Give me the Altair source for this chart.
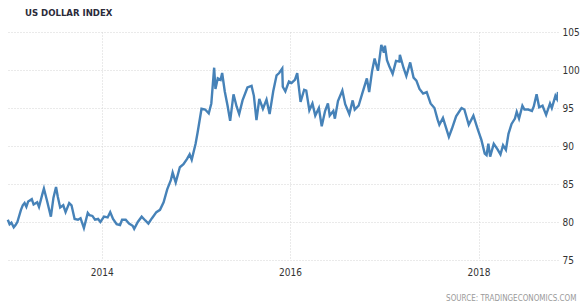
import altair as alt
import pandas as pd

TITLE = "US DOLLAR INDEX"
SOURCE = "SOURCE: TRADINGECONOMICS.COM"
Y_TICKS = [75, 80, 85, 90, 95, 100, 105]
X_TICK_YEARS = [2014, 2016, 2018]

Y2013 = [("2013-01-02", 80.3), ("2013-01-09", 79.7), ("2013-01-16", 79.9), ("2013-01-25", 79.3),
         ("2013-02-01", 79.6), ("2013-02-08", 80.0),
         ("2013-02-22", 81.6), ("2013-03-01", 82.2), ("2013-03-08", 82.5), ("2013-03-15", 82.0),
         ("2013-03-22", 82.7), ("2013-04-05", 83.0),
         ("2013-04-12", 82.3), ("2013-04-26", 82.6), ("2013-05-03", 82.0), ("2013-05-17", 83.8),
         ("2013-05-22", 84.4), ("2013-06-03", 82.8), ("2013-06-18", 80.7), ("2013-06-28", 83.2),
         ("2013-07-08", 84.6), ("2013-07-15", 83.3), ("2013-07-24", 81.9), ("2013-08-05", 82.2),
         ("2013-08-14", 81.3), ("2013-08-28", 82.5), ("2013-09-06", 82.2), ("2013-09-18", 80.4),
         ("2013-10-01", 80.3), ("2013-10-11", 80.5), ("2013-10-24", 79.2), ("2013-11-08", 81.2),
         ("2013-11-15", 80.9), ("2013-11-26", 80.8), ("2013-12-06", 80.3), ("2013-12-18", 80.4),
         ("2013-12-27", 80.0)]
Y2014 = [("2014-01-10", 80.7), ("2014-01-24", 80.6), ("2014-02-03", 81.3), ("2014-02-14", 80.4),
         ("2014-02-28", 79.7), ("2014-03-13", 79.6), ("2014-03-21", 80.3), ("2014-04-04", 80.3),
         ("2014-04-17", 79.8), ("2014-05-01", 79.5), ("2014-05-07", 79.1), ("2014-05-21", 80.0),
         ("2014-06-05", 80.7), ("2014-06-19", 80.2), ("2014-07-01", 79.8), ("2014-07-15", 80.5),
         ("2014-08-01", 81.3), ("2014-08-15", 81.6), ("2014-08-29", 82.6), ("2014-09-12", 84.3),
         ("2014-09-26", 85.5), ("2014-10-03", 86.5), ("2014-10-15", 85.2), ("2014-10-31", 87.2),
         ("2014-11-14", 87.6), ("2014-11-28", 88.3), ("2014-12-08", 88.9), ("2014-12-16", 88.2),
         ("2014-12-31", 90.3)]
Y2015 = [("2015-01-08", 91.8), ("2015-01-23", 94.9), ("2015-02-06", 94.8), ("2015-02-20", 94.3),
         ("2015-03-02", 95.6), ("2015-03-13", 100.3), ("2015-03-18", 97.5), ("2015-03-27", 98.9),
         ("2015-04-07", 98.7), ("2015-04-13", 99.6), ("2015-04-23", 97.2), ("2015-05-04", 95.3),
         ("2015-05-14", 93.3), ("2015-05-27", 96.8), ("2015-06-08", 95.2), ("2015-06-18", 94.2),
         ("2015-07-01", 96.0), ("2015-07-20", 97.7), ("2015-08-05", 97.9), ("2015-08-14", 96.6),
         ("2015-08-24", 93.4), ("2015-09-04", 96.2), ("2015-09-18", 94.9), ("2015-10-02", 96.1),
         ("2015-10-14", 94.2), ("2015-10-28", 97.2), ("2015-11-10", 99.3), ("2015-11-20", 99.6),
         ("2015-12-02", 100.2), ("2015-12-04", 97.8), ("2015-12-14", 97.2), ("2015-12-28", 98.5)]
Y2016 = [("2016-01-07", 98.3), ("2016-01-20", 98.7), ("2016-01-29", 99.6), ("2016-02-11", 95.8),
         ("2016-02-25", 97.4), ("2016-03-04", 97.3), ("2016-03-16", 94.7), ("2016-03-28", 95.6),
         ("2016-04-08", 94.0), ("2016-04-22", 95.0), ("2016-05-03", 92.6), ("2016-05-16", 94.6),
         ("2016-05-27", 95.6), ("2016-06-03", 94.0), ("2016-06-17", 94.6), ("2016-06-23", 93.6),
         ("2016-07-05", 95.9), ("2016-07-22", 97.3), ("2016-08-02", 95.5), ("2016-08-18", 94.2),
         ("2016-08-31", 96.0), ("2016-09-08", 94.8), ("2016-09-23", 95.3), ("2016-10-07", 96.9),
         ("2016-10-25", 98.9), ("2016-11-03", 97.1), ("2016-11-14", 99.8), ("2016-11-24", 101.5),
         ("2016-12-07", 99.9), ("2016-12-20", 103.3), ("2016-12-30", 102.3)]
Y2017 = [("2017-01-03", 103.2), ("2017-01-11", 101.3), ("2017-01-20", 100.5), ("2017-02-02", 99.5),
         ("2017-02-15", 101.2), ("2017-02-28", 101.1), ("2017-03-02", 102.0), ("2017-03-16", 100.3),
         ("2017-03-27", 99.2), ("2017-04-11", 101.0), ("2017-04-24", 99.0), ("2017-05-05", 98.6),
         ("2017-05-17", 97.5), ("2017-05-31", 96.9), ("2017-06-14", 97.1), ("2017-06-29", 95.6),
         ("2017-07-14", 95.0), ("2017-07-26", 93.5), ("2017-08-02", 92.8), ("2017-08-16", 93.7),
         ("2017-08-29", 92.3), ("2017-09-08", 91.2), ("2017-09-20", 92.3), ("2017-10-06", 93.9),
         ("2017-10-27", 95.0), ("2017-11-07", 94.8), ("2017-11-24", 92.8), ("2017-12-12", 94.0),
         ("2017-12-29", 92.2)]
Y2018 = [("2018-01-12", 90.8), ("2018-01-25", 89.0), ("2018-02-01", 88.8), ("2018-02-08", 90.3),
         ("2018-02-15", 88.6), ("2018-03-01", 90.3), ("2018-03-15", 89.6), ("2018-03-27", 88.9),
         ("2018-04-06", 90.1), ("2018-04-17", 89.5), ("2018-04-27", 91.6), ("2018-05-09", 92.9),
         ("2018-05-22", 93.6), ("2018-05-29", 94.5), ("2018-06-07", 93.6), ("2018-06-20", 95.3),
         ("2018-06-28", 94.8), ("2018-07-13", 94.8), ("2018-07-27", 94.6), ("2018-08-03", 95.2),
         ("2018-08-14", 96.8), ("2018-08-24", 95.1), ("2018-09-06", 95.3), ("2018-09-20", 94.1),
         ("2018-10-05", 95.6), ("2018-10-12", 95.0), ("2018-10-26", 96.6), ("2018-11-01", 96.2),
         ("2018-11-05", 97.1)]

rows = Y2013 + Y2014 + Y2015 + Y2016 + Y2017 + Y2018
df = pd.DataFrame(rows, columns=["date", "value"])

FONT = "Liberation Sans Narrow, DejaVu Sans Condensed, Arial Narrow, sans-serif"

x_axis = alt.Axis(
    values=[alt.DateTime(year=y, month=1, date=1) for y in X_TICK_YEARS],
    format="%Y", labelAngle=0, ticks=False, domain=False,
    grid=True, gridColor="#d4d4d4", gridDash=[1, 2], gridWidth=1,
    labelFont=FONT, labelFontSize=10, labelColor="#333333", labelPadding=7,
    title=SOURCE, titleFont=FONT, titleFontSize=8, titleFontWeight="normal",
    titleColor="#9a9a9a", titleAlign="right", titleAnchor="end",
    titleX=570, titleY=38, titleBaseline="middle",
)
y_axis = alt.Axis(
    values=Y_TICKS, orient="right", ticks=False, domain=False,
    grid=True, gridColor="#d4d4d4", gridDash=[1, 2], gridWidth=1,
    labelFont=FONT, labelFontSize=10, labelColor="#333333", labelPadding=4,
    title=None,
)

chart = alt.Chart(df).mark_line(color="#4682b8", strokeWidth=2.4, clip=True).encode(
    x=alt.X("date:T", axis=x_axis,
            scale=alt.Scale(domain=[alt.DateTime(year=2012, month=12, date=26),
                                    alt.DateTime(year=2018, month=11, date=5)])),
    y=alt.Y("value:Q", axis=y_axis, scale=alt.Scale(domain=[75, 105], nice=False, zero=False)),
).properties(
    width=552, height=228,
    title=alt.TitleParams(TITLE, anchor="start", dx=19, offset=10, font=FONT,
                          fontSize=9.5, fontWeight="bold", color="#2b2b3a"),
    autosize=alt.AutoSizeParams(type="none"),
    padding={"left": 6, "top": 32, "right": 22, "bottom": 45},
    background="white",
).configure_view(stroke=None)

chart.save("out.html", embed_options={"renderer": "svg", "actions": False})
